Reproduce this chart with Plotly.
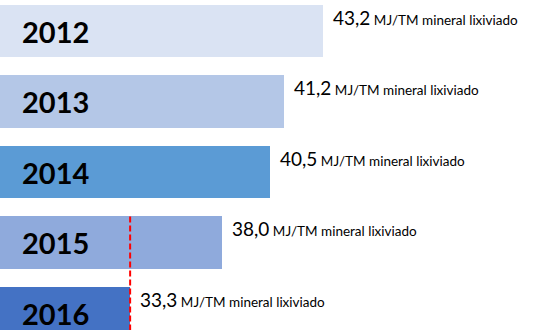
import plotly.graph_objects as go

# Energy intensity per year (MJ per tonne of leached ore)
years = ["2012", "2013", "2014", "2015", "2016"]
values = [43.2, 41.2, 40.5, 38.0, 33.3]
value_labels = ["43,2", "41,2", "40,5", "38,0", "33,3"]
unit = "MJ/TM mineral lixiviado"
bar_colors = ["#dae3f3", "#b4c7e7", "#5b9bd5", "#8faadc", "#4472c4"]
reference_value = values[-1]

W, H = 533, 330
font_family = "Lato"

# rows are positioned by index, top to bottom
rows = list(range(len(years)))

fig = go.Figure(
    go.Bar(
        y=rows,
        x=values,
        orientation="h",
        width=0.74,
        marker=dict(color=bar_colors, line=dict(width=0)),
        hoverinfo="skip",
    )
)

annotations = []
for r, yr, v, lab in zip(rows, years, values, value_labels):
    # year label inside the bar, near its left edge
    annotations.append(dict(
        xref="paper", x=20 / W, yref="y", y=r,
        xanchor="left", yanchor="middle", showarrow=False,
        text=f"<b>{yr}</b>",
        font=dict(family=font_family, size=29, color="#000000"),
    ))
    # value label just past the bar end, raised toward the bar top
    annotations.append(dict(
        xref="x", x=v, yref="y", y=r,
        xanchor="left", yanchor="middle", showarrow=False,
        xshift=8, yshift=14,
        text=(f"<span style='font-size:19px'>{lab}</span> "
              f"<span style='font-size:13.5px'>{unit}</span>"),
        font=dict(family=font_family, size=13.5, color="#000000"),
    ))

fig.update_layout(
    width=W, height=H,
    margin=dict(l=0, r=0, t=0, b=0),
    paper_bgcolor="white", plot_bgcolor="white",
    showlegend=False,
    bargap=0,
    annotations=annotations,
    shapes=[dict(
        type="line", xref="x", yref="y",
        x0=reference_value, x1=reference_value, y0=2.63, y1=4.6,
        line=dict(color="#ff0000", width=2, dash="6px,3px"),
        layer="above",
    )],
    xaxis=dict(range=[26.62, 26.62 + W / 19.48], showgrid=False, zeroline=False,
               showticklabels=False, ticks="", fixedrange=True),
    yaxis=dict(range=[4.24, -0.44], showgrid=False, zeroline=False,
               showticklabels=False, ticks="", fixedrange=True),
)

fig.write_html("out.html", config={"displayModeBar": False})
